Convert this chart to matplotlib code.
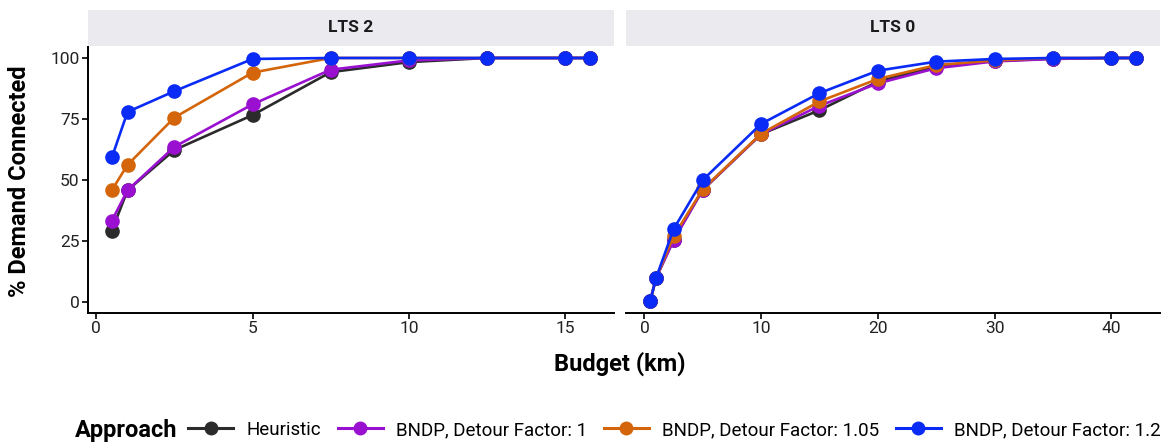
import matplotlib.pyplot as plt
from matplotlib.lines import Line2D

plt.rcParams['font.family'] = ['Roboto', 'DejaVu Sans']

# LTS 2 panel
x_lts2 = [0.5, 1, 2.5, 5, 7.5, 10, 12.5, 15, 15.8]
heur_lts2 = [29.3, 45.8, 62.3, 76.6, 94.2, 98.3, 100, 100, 100]
df1_lts2 = [33.4, 45.8, 63.6, 81.0, 95.2, 99.0, 100, 100, 100]
df105_lts2 = [45.9, 56.2, 75.6, 94.0, 100, 100, 100, 100, 100]
df12_lts2 = [59.3, 77.9, 86.4, 99.6, 100, 100, 100, 100, 100]

# LTS 0 panel
x_lts0 = [0.5, 1, 2.5, 5, 10, 15, 20, 25, 30, 35, 40, 42.1]
heur_lts0 = [0.5, 9.9, 25.6, 46.0, 68.8, 78.6, 90.3, 96.6, 98.8, 99.7, 100, 100]
df1_lts0 = [0.5, 9.9, 25.3, 46.0, 68.8, 80.4, 89.6, 95.8, 98.6, 99.6, 100, 100]
df105_lts0 = [0.5, 9.9, 27.0, 46.2, 69.0, 82.2, 91.4, 97.1, 99.0, 100, 100, 100]
df12_lts0 = [0.5, 9.9, 29.9, 50.0, 73.0, 85.6, 94.8, 98.5, 99.6, 100, 100, 100]

labels = ['Heuristic', 'BNDP, Detour Factor: 1', 'BNDP, Detour Factor: 1.05', 'BNDP, Detour Factor: 1.2']
colors = ['#2b2b2b', '#9a10d0', '#d4650a', '#0a2bf5']

panels = [
    ('LTS 2', x_lts2, [heur_lts2, df1_lts2, df105_lts2, df12_lts2], [0, 5, 10, 15]),
    ('LTS 0', x_lts0, [heur_lts0, df1_lts0, df105_lts0, df12_lts0], [0, 10, 20, 30, 40]),
]

W, H = 1174, 445
fig = plt.figure(figsize=(W / 100, H / 100), dpi=100)
boxes = [(88, 614), (626, 1160)]
top, bottom = 47, 313

for i, (title, xs, series, xticks) in enumerate(panels):
    x0, x1 = boxes[i]
    ax = fig.add_axes([x0 / W, 1 - bottom / H, (x1 - x0) / W, (bottom - top) / H])
    for ys, c in zip(series, colors):
        ax.plot(xs, ys, color=c, lw=1.9, marker='o', ms=9.5, zorder=3)
    ax.set_ylim(-4.5, 104.5)
    ax.set_yticks([0, 25, 50, 75, 100])
    ax.set_xticks(xticks)
    ax.margins(x=0.05)
    for s in ['top', 'right']:
        ax.spines[s].set_visible(False)
    ax.spines['bottom'].set_linewidth(1.4)
    ax.spines['left'].set_linewidth(1.4)
    ax.tick_params(labelsize=12.5, width=1.2, length=4, pad=2, colors='black', labelcolor='#222222')
    if i == 1:
        ax.spines['left'].set_visible(False)
        ax.tick_params(axis='y', left=False, labelleft=False)
    # facet strip
    sax = fig.add_axes([x0 / W, 1 - 46 / H, (x1 - x0) / W, 36 / H])
    sax.set_facecolor('#eaeaef')
    sax.set_xticks([])
    sax.set_yticks([])
    for s in sax.spines.values():
        s.set_visible(False)
    sax.text(0.5, 0.5, title, ha='center', va='center', fontsize=12.5,
             fontweight='bold', color='#1a1a1a', transform=sax.transAxes)

fig.text(620 / W, 1 - 364 / H, 'Budget (km)', ha='center', va='center',
         fontsize=17, fontweight='bold')
fig.text(20 / W, 1 - 181 / H, '% Demand Connected', ha='center', va='center',
         rotation=90, fontsize=17, fontweight='bold')

handles = [Line2D([0], [0], color=c, lw=2.2, marker='o', ms=9) for c in colors]
fig.text(75 / W, 1 - 430 / H, 'Approach', ha='left', va='center',
         fontsize=17, fontweight='bold')
fig.legend(handles, labels, loc='center left', bbox_to_anchor=(188 / W, 1 - 430 / H),
           ncol=4, frameon=False, fontsize=13.5, handlelength=2.4,
           handletextpad=0.7, columnspacing=0.9, borderaxespad=0, borderpad=0)

fig.savefig('out.png', dpi=100)
